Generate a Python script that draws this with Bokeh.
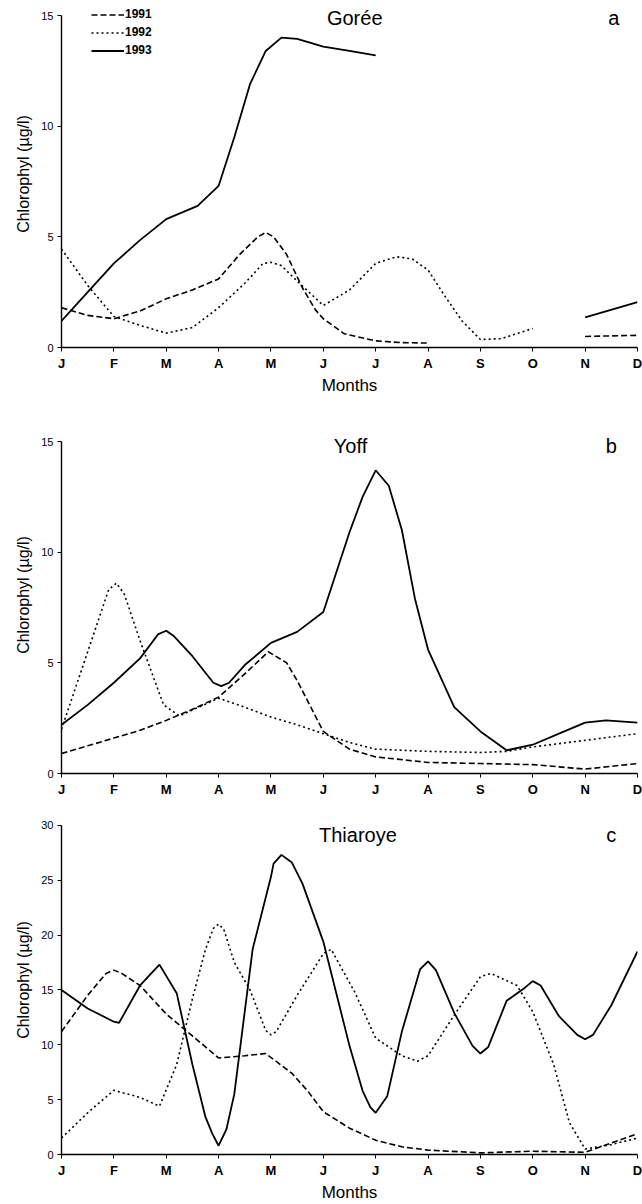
import math
from bokeh.plotting import figure
from bokeh.layouts import column
from bokeh.models import Range1d, FixedTicker, Legend, LegendItem, Label
from bokeh.embed import file_html
from bokeh.resources import INLINE

NaN = float("nan")

MONTHS = ["J", "F", "M", "A", "M", "J", "J", "A", "S", "O", "N", "D"]
YEARS = ["1991", "1992", "1993"]

# ---- Gorée (a) : month index (0 = Jan) and chlorophyll (µg/l)
goree_x_1991 = [0, 0.5, 1, 1.5, 2, 2.5, 3, 3.4, 3.75, 3.9, 4.05, 4.3, 4.6, 4.85, 5.0, 5.4, 6, 6.5, 7, NaN, 10, 11]
goree_y_1991 = [1.8, 1.45, 1.3, 1.65, 2.2, 2.6, 3.1, 4.2, 5.0, 5.2, 5.0, 4.2, 2.7, 1.7, 1.3, 0.62, 0.3, 0.22, 0.2, NaN, 0.5, 0.55]
goree_x_1992 = [0, 0.5, 1, 1.5, 2, 2.5, 3, 3.5, 3.85, 4, 4.2, 4.5, 5, 5.5, 6, 6.4, 6.7, 7, 7.3, 7.65, 8, 8.4, 9]
goree_y_1992 = [4.45, 2.8, 1.4, 1.0, 0.65, 0.9, 1.8, 2.9, 3.8, 3.85, 3.7, 3.0, 1.9, 2.6, 3.8, 4.1, 4.0, 3.5, 2.4, 1.2, 0.36, 0.4, 0.86]
goree_x_1993 = [0, 0.5, 1, 1.5, 2, 2.6, 3, 3.3, 3.6, 3.9, 4.2, 4.5, 5, 5.5, 6, NaN, 10, 11]
goree_y_1993 = [1.2, 2.5, 3.8, 4.85, 5.8, 6.4, 7.3, 9.5, 11.9, 13.4, 14.0, 13.95, 13.6, 13.4, 13.2, NaN, 1.36, 2.05]

# ---- Yoff (b)
yoff_x_1991 = [0, 0.5, 1, 1.5, 2, 2.5, 3, 3.5, 3.95, 4.3, 4.5, 5.0, 5.5, 6, 7, 8, 9, 10, 11]
yoff_y_1991 = [0.9, 1.25, 1.6, 1.95, 2.4, 2.9, 3.45, 4.5, 5.5, 5.0, 4.2, 1.9, 1.1, 0.75, 0.5, 0.45, 0.4, 0.2, 0.45]
yoff_x_1992 = [0, 0.5, 0.9, 1.05, 1.2, 1.5, 1.95, 2.25, 3.0, 3.5, 4, 4.5, 5, 5.5, 6, 7, 8, 8.5, 9, 10, 11]
yoff_y_1992 = [2.0, 5.5, 8.3, 8.6, 8.1, 6.0, 3.1, 2.6, 3.4, 3.0, 2.55, 2.2, 1.8, 1.4, 1.1, 1.0, 0.95, 1.0, 1.2, 1.5, 1.8]
yoff_x_1993 = [0, 0.5, 1, 1.5, 1.85, 2, 2.15, 2.5, 2.9, 3.05, 3.2, 3.5, 4, 4.5, 5, 5.5, 5.75, 6, 6.25, 6.5, 6.75, 7, 7.5, 8, 8.5, 9, 9.5, 10, 10.4, 11]
yoff_y_1993 = [2.2, 3.1, 4.1, 5.2, 6.3, 6.45, 6.2, 5.3, 4.1, 3.95, 4.1, 4.9, 5.9, 6.4, 7.3, 10.9, 12.5, 13.7, 13.0, 11.0, 7.9, 5.6, 3.0, 1.9, 1.05, 1.3, 1.8, 2.3, 2.4, 2.3]

# ---- Thiaroye (c)
thia_x_1991 = [0, 0.5, 0.85, 1, 1.15, 1.5, 2, 2.5, 3, 3.5, 3.9, 4.4, 4.7, 5, 5.5, 6, 6.5, 7, 8, 9, 10, 11]
thia_y_1991 = [11.2, 14.5, 16.5, 16.8, 16.5, 15.4, 12.8, 10.8, 8.8, 9.0, 9.2, 7.4, 5.8, 3.9, 2.4, 1.3, 0.7, 0.4, 0.15, 0.3, 0.2, 1.9]
thia_x_1992 = [0, 0.5, 1, 1.5, 1.87, 2.2, 2.5, 2.75, 2.9, 3.0, 3.1, 3.3, 3.6, 3.9, 4.0, 4.1, 4.5, 5.0, 5.15, 5.6, 6, 6.5, 6.8, 7, 7.5, 8, 8.2, 8.7, 9, 9.4, 9.7, 10, 10.5, 11]
thia_y_1992 = [1.5, 3.8, 5.85, 5.2, 4.4, 8.2, 14.2, 18.7, 20.6, 21.0, 20.5, 17.5, 15.0, 11.3, 10.9, 11.2, 14.5, 18.3, 18.7, 14.8, 10.6, 9.0, 8.5, 9.0, 12.7, 16.2, 16.5, 15.4, 13.0, 8.2, 2.9, 0.5, 0.9, 1.5]
thia_x_1993 = [0, 0.5, 1, 1.1, 1.5, 1.87, 2.2, 2.5, 2.75, 2.88, 3.0, 3.15, 3.3, 3.65, 4, 4.05, 4.2, 4.4, 4.6, 5, 5.5, 5.75, 5.9, 6, 6.22, 6.5, 6.85, 7, 7.15, 7.5, 7.85, 8, 8.15, 8.5, 8.85, 9, 9.15, 9.5, 9.85, 10, 10.15, 10.5, 11]
thia_y_1993 = [15.0, 13.3, 12.1, 12.0, 15.4, 17.3, 14.7, 8.2, 3.4, 1.9, 0.8, 2.3, 5.5, 18.7, 25.3, 26.5, 27.3, 26.6, 24.7, 19.4, 9.9, 5.8, 4.3, 3.8, 5.3, 11.2, 16.9, 17.6, 16.8, 12.9, 9.9, 9.2, 9.8, 14.0, 15.2, 15.8, 15.4, 12.6, 10.9, 10.5, 10.9, 13.6, 18.5]

FONT = "Liberation Sans"
DASHES = {"1991": "6 3", "1992": "2 3", "1993": "solid"}
WIDTHS = {"1991": 1.6, "1992": 1.6, "1993": 1.8}


def make_panel(series, ymax, ytop, yticks, left, right, top, bottom, height,
               xlabel, title, letter, title_x, letter_x, title_py, legend=False):
    p = figure(width=642, height=height, output_backend="svg", toolbar_location=None,
               x_range=Range1d(0, 11), y_range=Range1d(0, ytop),
               min_border_left=left, min_border_right=right,
               min_border_top=top, min_border_bottom=bottom)
    p.outline_line_color = None
    p.grid.visible = False
    p.background_fill_color = "white"
    p.border_fill_color = "white"

    rs = {}
    for yr, (xs, ys) in zip(YEARS, series):
        rs[yr] = p.line(xs, ys, line_color="black", line_width=WIDTHS[yr],
                        line_dash=DASHES[yr])

    xa = p.xaxis[0]
    xa.ticker = FixedTicker(ticks=list(range(12)))
    xa.major_label_overrides = {i: m for i, m in enumerate(MONTHS)}
    xa.minor_tick_line_color = None
    xa.major_tick_in = 0
    xa.major_tick_out = 4
    xa.axis_line_width = 1.6
    xa.axis_line_color = "black"
    xa.major_tick_line_color = "black"
    xa.major_label_text_color = "black"
    xa.major_label_text_font = FONT
    xa.major_label_text_font_size = "13px"
    xa.major_label_text_font_style = "bold"
    xa.major_label_standoff = 4
    if xlabel:
        xa.axis_label = xlabel
        xa.axis_label_text_color = "black"
        xa.axis_label_text_font = FONT
        xa.axis_label_text_font_size = "17px"
        xa.axis_label_text_font_style = "normal"
        xa.axis_label_standoff = 2

    ya = p.yaxis[0]
    ya.ticker = FixedTicker(ticks=yticks)
    ya.bounds = (0, ymax)
    ya.minor_tick_line_color = None
    ya.major_tick_in = 0
    ya.major_tick_out = 4
    ya.axis_line_width = 1.4
    ya.axis_line_color = "black"
    ya.major_tick_line_color = "black"
    ya.major_label_text_color = "black"
    ya.major_label_text_font = FONT
    ya.major_label_text_font_size = "11px"
    ya.major_label_standoff = 4
    ya.axis_label = "Chlorophyl (µg/l)"
    ya.axis_label_text_color = "black"
    ya.axis_label_text_font = FONT
    ya.axis_label_text_font_size = "16px"
    ya.axis_label_text_font_style = "normal"
    ya.axis_label_standoff = 6

    p.add_layout(Label(x=title_x, y=title_py, x_units="data", y_units="screen",
                       text=title, text_font=FONT, text_font_size="20px",
                       text_color="black", text_align="center", text_baseline="middle"))
    p.add_layout(Label(x=letter_x, y=title_py, x_units="data", y_units="screen",
                       text=letter, text_font=FONT, text_font_size="20px",
                       text_color="black", text_align="center", text_baseline="middle"))

    if legend:
        lg = Legend(items=[LegendItem(label=yr, renderers=[rs[yr]]) for yr in YEARS],
                    location=(30, 290), orientation="vertical",
                    border_line_color=None, background_fill_alpha=0,
                    label_text_font=FONT, label_text_font_size="12px",
                    label_text_font_style="bold", label_text_color="black",
                    glyph_width=33, glyph_height=13, label_height=13,
                    spacing=4, padding=0, margin=0, label_standoff=1)
        p.add_layout(lg)
    return p


# frame bottoms: a at y=347, b at y=773, c at y=1158 (page pixels)
pa = make_panel([(goree_x_1991, goree_y_1991), (goree_x_1992, goree_y_1992),
                 (goree_x_1993, goree_y_1993)],
                15, 15.68, [0, 5, 10, 15], 55, 5, 0, 53, 400,
                "Months", "Gorée", "a", 5.6, 10.55, 330, legend=True)
pb = make_panel([(yoff_x_1991, yoff_y_1991), (yoff_x_1992, yoff_y_1992),
                 (yoff_x_1993, yoff_y_1993)],
                15, 16.13, [0, 5, 10, 15], 59, 5, 16, 27, 400,
                None, "Yoff", "b", 5.52, 10.5, 328)
pc = make_panel([(thia_x_1991, thia_y_1991), (thia_x_1992, thia_y_1992),
                 (thia_x_1993, thia_y_1993)],
                30, 31.8, [0, 5, 10, 15, 20, 25, 30], 61, 1, 5, 46, 404,
                "Months", "Thiaroye", "c", 5.66, 10.5, 320)

layout = column(pa, pb, pc, spacing=0)
open("out.html", "w").write(file_html(layout, INLINE))
